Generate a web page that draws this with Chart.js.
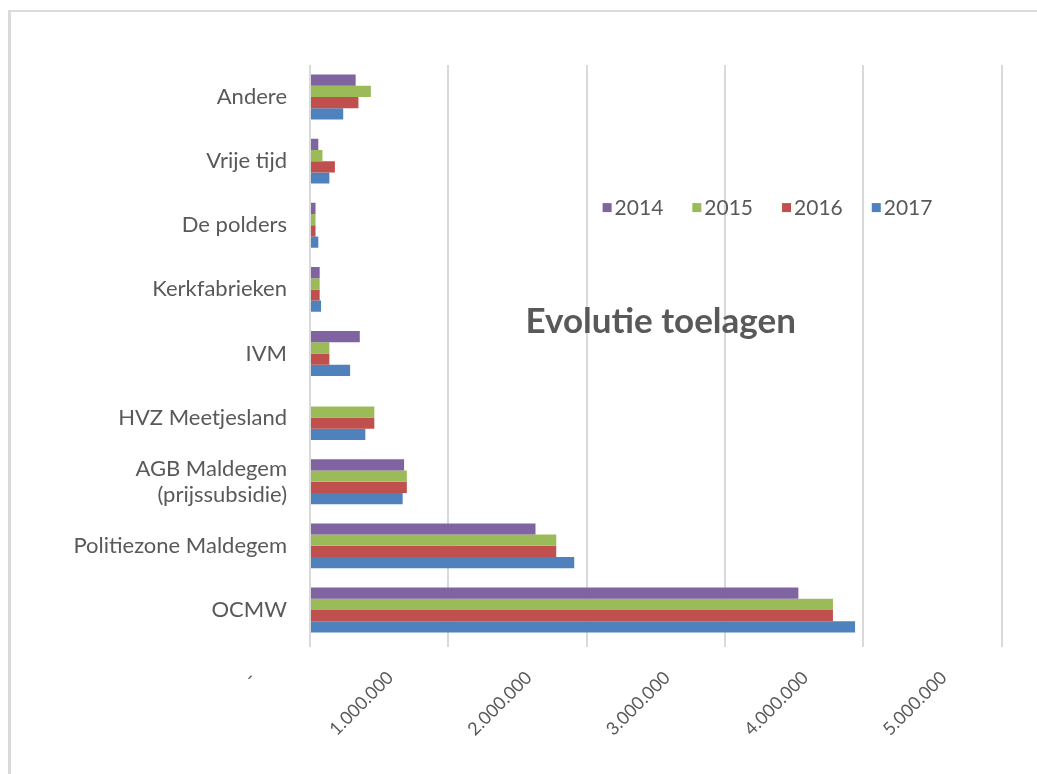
<!DOCTYPE html>
<html>
<head>
<meta charset="utf-8">
<script src="https://cdn.jsdelivr.net/npm/chart.js@4/dist/chart.umd.min.js"></script>
<style>
  html, body { margin: 0; padding: 0; background: #fff; }
  #wrap { position: relative; width: 1037px; height: 774px; }
  #frame {
    position: absolute; left: 8px; top: 10px; right: 0; bottom: 0;
    border-left: 3px solid #d9d9d9; border-top: 2px solid #dcdcdc;
    pointer-events: none;
  }
</style>
</head>
<body>
<div id="wrap">
  <canvas id="chart" width="1037" height="774"></canvas>
  <div id="frame"></div>
</div>
<script>
const categories = [
  'Andere',
  'Vrije tijd',
  'De polders',
  'Kerkfabrieken',
  'IVM',
  'HVZ Meetjesland',
  ['AGB Maldegem', '(prijssubsidie)'],
  'Politiezone Maldegem',
  'OCMW'
];

const years = ['2014', '2015', '2016', '2017'];
const colors = ['#8064A2', '#9BBB59', '#C0504D', '#4F81BD'];

const values2014 = [330000, 60000, 40000, 70000, 360000, 0, 680000, 1630000, 3530000];
const values2015 = [440000, 90000, 40000, 70000, 140000, 465000, 700000, 1780000, 3780000];
const values2016 = [350000, 180000, 40000, 70000, 140000, 465000, 700000, 1780000, 3780000];
const values2017 = [240000, 140000, 60000, 80000, 290000, 400000, 670000, 1910000, 3940000];

const series = [values2014, values2015, values2016, values2017];

const tickValues = [0, 1000000, 2000000, 3000000, 4000000, 5000000];

function formatNumber(v) {
  if (v === 0) return '-';
  return String(v).replace(/\B(?=(\d{3})+(?!\d))/g, '.');
}

// draws the title and legend inside the plot, like the original sheet
const overlayPlugin = {
  id: 'overlay',
  afterDraw(chart, args, opts) {
    const ctx = chart.ctx;
    const area = chart.chartArea;
    ctx.save();

    // title
    ctx.font = 'bold 35px Lato';
    ctx.fillStyle = '#595959';
    ctx.textAlign = 'center';
    ctx.textBaseline = 'middle';
    ctx.fillText(opts.title,
      area.left + area.width * opts.titleX,
      area.top + area.height * opts.titleY);

    // legend
    ctx.font = '21px Lato';
    ctx.textAlign = 'left';
    let x = area.left + area.width * opts.legendX;
    const y = area.top + area.height * opts.legendY;
    chart.data.datasets.forEach(ds => {
      ctx.fillStyle = ds.backgroundColor;
      ctx.fillRect(x, y - 5, 9, 9);
      ctx.fillStyle = '#595959';
      ctx.fillText(ds.label, x + 12, y);
      x += 12 + ctx.measureText(ds.label).width + 29;
    });
    ctx.restore();
  }
};

const ctx = document.getElementById('chart').getContext('2d');
new Chart(ctx, {
  type: 'bar',
  data: {
    labels: categories,
    datasets: years.map((year, i) => ({
      label: year,
      data: series[i],
      backgroundColor: colors[i],
      borderWidth: 0,
      categoryPercentage: 0.7,
      barPercentage: 1.0
    }))
  },
  options: {
    indexAxis: 'y',
    responsive: false,
    animation: false,
    layout: {
      padding: { left: 0, top: 65, right: 35, bottom: 0 }
    },
    plugins: {
      legend: { display: false },
      title: { display: false },
      tooltip: { enabled: false },
      overlay: {
        title: 'Evolutie toelagen',
        titleX: 0.507,
        titleY: 0.445,
        legendX: 0.423,
        legendY: 0.248
      }
    },
    scales: {
      x: {
        min: 0,
        max: 5000000,
        afterBuildTicks: scale => {
          scale.ticks = tickValues.map(v => ({ value: v }));
        },
        afterFit: scale => { scale.height = 132; },
        grid: {
          color: '#d9d9d9',
          lineWidth: 2,
          drawTicks: true,
          tickLength: 5,
          tickColor: '#d9d9d9'
        },
        border: { display: false },
        ticks: {
          callback: v => formatNumber(v),
          minRotation: 45,
          maxRotation: 45,
          labelOffset: -58,
          padding: 20,
          color: '#595959',
          font: { family: 'Lato', size: 18 }
        }
      },
      y: {
        afterFit: scale => { scale.width = 310; },
        grid: { display: false },
        border: { display: false },
        ticks: {
          padding: 15,
          color: '#595959',
          font: { family: 'Lato', size: 22 }
        }
      }
    }
  },
  plugins: [overlayPlugin]
});
</script>
</body>
</html>
